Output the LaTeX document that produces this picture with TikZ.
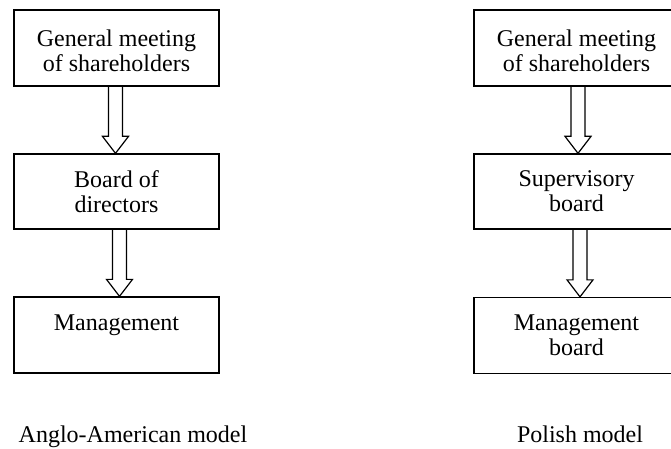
\documentclass[tikz,border=0pt]{standalone}
\usepackage{fontspec}
\setmainfont{Liberation Serif}
\usetikzlibrary{calc}
\tikzset{
  box/.style={draw, line width=1.3pt, minimum width=205pt, minimum height=76pt,
    inner sep=0pt, align=center, font=\fontsize{24}{25}\selectfont},
  caption/.style={anchor=base, inner sep=0pt, font=\fontsize{24}{25}\selectfont},
  harrow/.style={draw, line width=1.2pt, line join=miter}
}
\newcommand\hollowarrow[3]{%
  \draw[harrow] ($(#1.south)+(#3-7pt,0)$) -- ($(#2.north)+(#3-7pt,17pt)$)
    -- ($(#2.north)+(#3-13pt,17pt)$) -- ($(#2.north)+(#3,0)$)
    -- ($(#2.north)+(#3+13pt,17pt)$) -- ($(#2.north)+(#3+7pt,17pt)$)
    -- ($(#1.south)+(#3+7pt,0)$);}
\begin{document}
\begin{tikzpicture}
\useasboundingbox (0,0) rectangle (671pt,-449pt);
% left column
\node[box] (lg) at (116.5pt,-48pt) {\rule{0pt}{23pt}General meeting\\of shareholders};
\node[box, minimum height=75pt] (lb) at (116.5pt,-191.5pt) {Board of\\directors};
\node[box] (lm) at (116.5pt,-335pt) {Management\\\phantom{board}};
% right column
\node[box] (rg) at (576.5pt,-48pt) {\rule{0pt}{23pt}General meeting\\of shareholders};
\node[box, minimum height=75pt] (rs) at (576.5pt,-191.5pt) {Supervisory\\board};
\node[box] (rm) at (576.5pt,-335.5pt) {Management\\board};
% arrows
\hollowarrow{lg}{lb}{-1pt}
\hollowarrow{lb}{lm}{3pt}
\hollowarrow{rg}{rs}{1.5pt}
\hollowarrow{rs}{rm}{3.5pt}
% captions
\node[caption] (lc) at (133pt,-442pt) {Anglo-American model};
\node[caption] (rc) at (580pt,-442pt) {Polish model};
\end{tikzpicture}
\end{document}
